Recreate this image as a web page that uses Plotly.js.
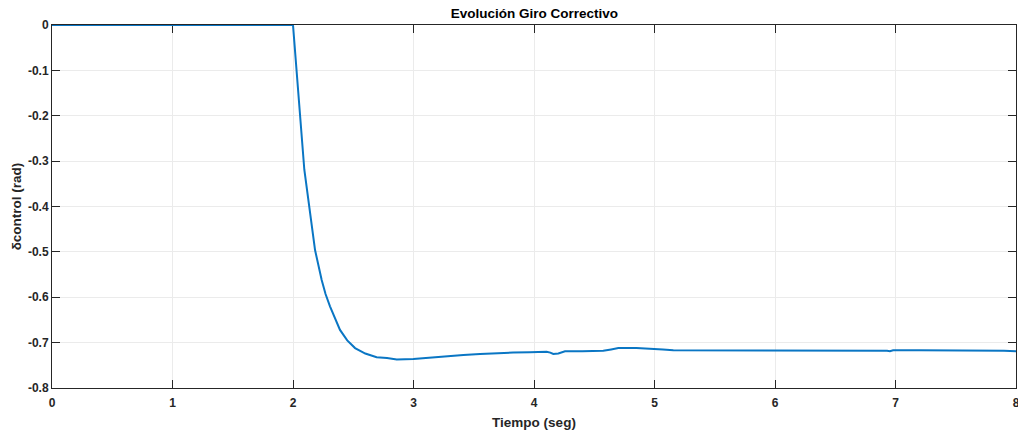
<!DOCTYPE html>
<html>
<head>
<meta charset="utf-8">
<script src="https://cdn.plot.ly/plotly-3.0.1.min.js"></script>
<style>html,body{margin:0;padding:0;background:#fff;}#chart{width:1018px;height:430px;}</style>
</head>
<body>
<div id="chart"></div>
<script>
const tiempo = [0, 0.5, 1.0, 1.5, 2.0, 2.094, 2.141, 2.183, 2.238, 2.27, 2.307, 2.35, 2.39, 2.45, 2.515, 2.6, 2.694, 2.78, 2.861, 2.999, 3.137, 3.275, 3.414, 3.552, 3.69, 3.828, 3.966, 4.105, 4.135, 4.16, 4.202, 4.257, 4.4, 4.575, 4.64, 4.7, 4.85, 4.99, 5.07, 5.156, 5.378, 5.7, 6.0, 6.4, 6.8, 6.93, 6.954, 6.98, 7.2, 7.5, 7.77, 7.9, 8.0];
const delta = [0, 0, 0, 0, 0, -0.319, -0.407, -0.496, -0.562, -0.593, -0.620, -0.648, -0.672, -0.695, -0.712, -0.724, -0.732, -0.734, -0.737, -0.736, -0.733, -0.729, -0.727, -0.725, -0.723, -0.722, -0.721, -0.720, -0.722, -0.725, -0.724, -0.719, -0.719, -0.718, -0.715, -0.712, -0.712, -0.713, -0.715, -0.717, -0.717, -0.717, -0.717, -0.717, -0.717, -0.718, -0.719, -0.717, -0.717, -0.717, -0.717, -0.718, -0.719];
const xTicks = [0, 1, 2, 3, 4, 5, 6, 7, 8];
const yTicks = [0, -0.1, -0.2, -0.3, -0.4, -0.5, -0.6, -0.7, -0.8];
const yTickText = ['0', '-0.1', '-0.2', '-0.3', '-0.4', '-0.5', '-0.6', '-0.7', '-0.8'];

const fontFam = 'Liberation Sans, Arial, sans-serif';
const trace = {
  x: tiempo, y: delta, type: 'scatter', mode: 'lines', cliponaxis: false,
  line: {color: '#0a76c4', width: 2}, hoverinfo: 'skip'
};
const axisCommon = {
  showline: true, mirror: 'ticks', linecolor: '#262626', linewidth: 1,
  ticks: 'inside', ticklen: 8, tickcolor: '#262626', tickwidth: 1,
  showgrid: true, gridcolor: '#ebebeb', gridwidth: 1, zeroline: false,
  layer: 'below traces', ticklabeloverflow: 'allow',
  tickfont: {family: fontFam, size: 12, color: '#262626', weight: 'bold'},
  automargin: false
};
const layout = {
  width: 1018, height: 430,
  margin: {l: 52, r: 2, t: 25, b: 42},
  paper_bgcolor: '#ffffff', plot_bgcolor: '#ffffff',
  showlegend: false,
  title: {text: 'Evolución Giro Correctivo', x: 0.525, xanchor: 'center', y: 0.97, yanchor: 'middle',
          font: {family: fontFam, size: 13.5, color: '#000000', weight: 'bold'}},
  xaxis: Object.assign({}, axisCommon, {
    range: [0, 8], tickvals: xTicks, ticktext: xTicks.map(String), ticklabelstandoff: 4,
    title: {text: 'Tiempo (seg)', standoff: 8, font: {family: fontFam, size: 13.5, color: '#262626', weight: 'bold'}}
  }),
  yaxis: Object.assign({}, axisCommon, {
    range: [-0.8, 0], tickvals: yTicks, ticktext: yTickText,
    title: {text: 'δcontrol (rad)', standoff: 3, font: {family: fontFam, size: 13.5, color: '#262626', weight: 'bold'}}
  })
};
Plotly.newPlot('chart', [trace], layout, {displayModeBar: false, staticPlot: true});
</script>
</body>
</html>
